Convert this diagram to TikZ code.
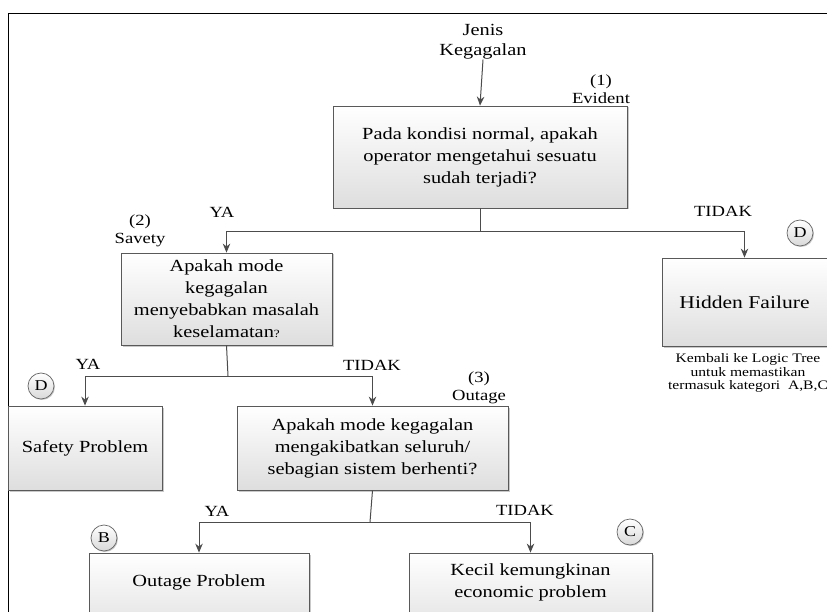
\documentclass[tikz,border=0pt]{standalone}
\usepackage{fontspec}
\setmainfont{Liberation Serif}[FakeStretch=1.2]
\usetikzlibrary{arrows.meta,shadows}
\begin{document}
\begin{tikzpicture}[x=1pt,y=-1pt,
  box/.style={draw=black!65, line width=0.8pt, top color=white, bottom color=black!13,
    drop shadow={shadow xshift=1.5pt, shadow yshift=-1.5pt, fill=black!35, opacity=0.6},
    inner sep=0pt, align=center, font=\fontsize{17}{22}\selectfont},
  txt/.style={align=center, inner sep=0pt, font=\fontsize{17}{22}\selectfont},
  lbl/.style={align=center, inner sep=0pt, font=\fontsize{15.5}{18}\selectfont},
  lett/.style={circle, draw=black!60, line width=0.7pt, top color=white, bottom color=black!15,
    minimum size=26pt, inner sep=0pt, font=\fontsize{15}{15}\selectfont,
    drop shadow={shadow xshift=1pt, shadow yshift=-1pt, fill=black!35, opacity=0.6}},
  ln/.style={draw=black!70, line width=1pt},
  conn/.style={draw=black!70, line width=1pt, -{Stealth[length=9pt,width=7.5pt]}}]
\clip (0,0) rectangle (827,612);
\fill[white] (0,0) rectangle (827,612);
\draw[line width=1.3pt] (8.5,13.5) rectangle (900,700);

% top
\node[txt, font=\fontsize{17}{20}\selectfont] (jenis) at (483,42) {Jenis\\Kegagalan};
\node[lbl] (ev) at (601,89) {(1)\\Evident};
\node[box, minimum width=294pt, minimum height=102pt] (q1) at (480,157)
  {Pada kondisi normal, apakah\\operator mengetahui sesuatu\\sudah terjadi?};
\draw[conn] (jenis.south) -- (q1.north);

% level 2
\node[box, minimum width=211pt, minimum height=92pt] (q2) at (226.5,299)
  {Apakah mode\\kegagalan\\menyebabkan masalah\\keselamatan{\fontsize{11}{11}\selectfont ?}};
\node[box, minimum width=165pt, minimum height=88pt, font=\fontsize{18}{22}\selectfont] (hid) at (744.5,302) {Hidden Failure};
\coordinate (j1) at (480,232);
\draw[ln] (q1.south) -- (j1);
\draw[conn] (j1) -| (q2);
\draw[conn] (j1) -| (hid);
\node[lbl] (ya1) at (222,212) {YA};
\node[lbl] (td1) at (723,211) {TIDAK};
\node[lbl] (sv) at (140,231) {(2)\\Savety};
\node[lett] (cD1) at (800,233) {D};
\node[txt, font=\fontsize{13}{13.5}\selectfont] (kemb) at (748,373)
  {Kembali ke Logic Tree\\untuk memastikan\\termasuk kategori~~A,B,C};

% level 3
\node[box, minimum width=154pt, minimum height=84pt] (safe) at (85,448) {Safety Problem};
\node[box, minimum width=271pt, minimum height=84pt] (q3) at (372.5,448)
  {Apakah mode kegagalan\\mengakibatkan seluruh/\\sebagian sistem berhenti?};
\coordinate (j2) at (228,376);
\draw[ln] (q2.south) -- (j2);
\draw[conn] (j2) -| (safe);
\draw[conn] (j2) -| (q3);
\node[lbl] (ya2) at (88,364) {YA};
\node[lbl] (td2) at (372,365) {TIDAK};
\node[lett] (cD2) at (41,386) {D};
\node[lbl] (og) at (479,388) {(3)\\Outage};

% level 4
\node[box, minimum width=220pt, minimum height=88pt] (out) at (199,597) {};
\node[txt] (outT) at (199,582) {Outage Problem};
\node[box, minimum width=243pt, minimum height=88pt] (kec) at (530.5,597) {};
\node[txt] (kecT) at (530.5,582) {Kecil kemungkinan\\economic problem};
\coordinate (j3) at (370,522);
\draw[ln] (q3.south) -- (j3);
\draw[conn] (j3) -| (out);
\draw[conn] (j3) -| (kec);
\node[lbl] (ya3) at (217,511) {YA};
\node[lbl] (td3) at (525,510) {TIDAK};
\node[lett] (cB) at (104,538) {B};
\node[lett] (cC) at (630,532) {C};
\end{tikzpicture}
\end{document}
